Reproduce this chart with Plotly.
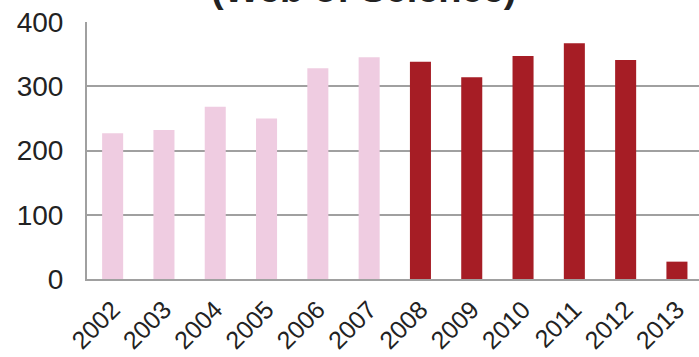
import plotly.graph_objects as go

years = ["2002", "2003", "2004", "2005", "2006", "2007",
         "2008", "2009", "2010", "2011", "2012", "2013"]
counts = [227, 232, 268, 250, 328, 345, 338, 314, 347, 367, 341, 27]
colors = ["#EFCCE1"] * 6 + ["#A61D25"] * 6
y_ticks = [0, 100, 200, 300, 400]

font_fam = "Liberation Sans, Arial, sans-serif"

fig = go.Figure(go.Bar(
    x=list(range(len(years))), y=counts, marker_color=colors,
    marker_line_width=0, width=0.41,
))

fig.update_layout(
    width=699, height=357,
    margin=dict(l=87, r=0, t=22, b=78),
    plot_bgcolor="white", paper_bgcolor="white",
    showlegend=False,
    font=dict(family=font_fam, color="#222222", size=26),
)
fig.update_xaxes(
    tickmode="array", tickvals=list(range(len(years))), ticktext=years,
    range=[-0.5, 11.43], tickangle=-45, automargin=False,
    showline=True, linecolor="#A0A0A0", linewidth=2,
    showgrid=False, ticks="", tickfont=dict(size=25, family=font_fam),
    ticklabelstandoff=4,
)
fig.update_yaxes(
    range=[0, 400], tickvals=y_ticks, automargin=False,
    showline=True, linecolor="#A0A0A0", linewidth=2,
    showgrid=True, gridcolor="#A0A0A0", gridwidth=1.5,
    ticks="", tickfont=dict(size=28, family=font_fam),
    ticklabelstandoff=16,
    zeroline=False,
)
fig.add_annotation(
    text="<b>(Web of Science)</b>", xref="paper", yref="paper",
    x=0.451, y=1.0, yanchor="bottom", xanchor="center", yshift=10,
    showarrow=False, font=dict(size=38, family=font_fam, color="#222222"),
)

fig.write_html("out.html")
